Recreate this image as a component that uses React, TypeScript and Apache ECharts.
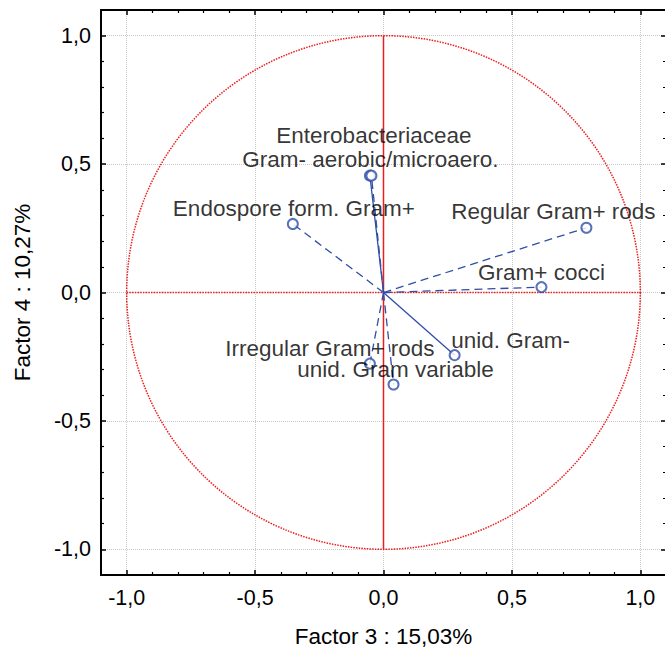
import React, { useEffect, useRef } from "react";
import * as echarts from "echarts";

// Factor loadings (Factor 3 on x, Factor 4 on y)
const NAMES = [
  "Enterobacteriaceae",
  "Gram- aerobic/microaero.",
  "Endospore form. Gram+",
  "Regular Gram+ rods",
  "Gram+ cocci",
  "unid. Gram-",
  "Irregular Gram+ rods",
  "unid. Gram variable",
];
const FACTOR3 = [-0.053, -0.047, -0.353, 0.79, 0.615, 0.277, -0.053, 0.039];
const FACTOR4 = [0.455, 0.455, 0.267, 0.252, 0.021, -0.244, -0.277, -0.358];
const LINE_KINDS = ["solid", "dashed", "dashed", "dashed", "dashed", "solid", "dashed", "dashed"];
// label centre offsets (px) from each point
const LABEL_OFFSETS = [
  [4, -40],
  [-1, -16],
  [1, -15],
  [-33, -16],
  [0, -15],
  [56, -15],
  [-40, -15.5],
  [2, -14.5],
];
const TICK_VALUES = [-1, -0.5, 0, 0.5, 1];
const TICK_LABELS = ["-1,0", "-0,5", "0,0", "0,5", "1,0"];
const X_NAME = "Factor 3 : 15,03%";
const Y_NAME = "Factor 4 : 10,27%";

const FONT = "'Liberation Sans', Arial, sans-serif";
const BLUE = "#2f4fa6";
const RED = "#ee1c1c";

function fmt(v: number): string {
  for (let i = 0; i < TICK_VALUES.length; i++) {
    if (Math.abs(v - TICK_VALUES[i]) < 1e-6) return TICK_LABELS[i];
  }
  return "";
}

function makeAxis(pos: string, main: boolean, isY: boolean): any {
  return {
    type: "value",
    position: pos,
    min: -1.1,
    max: 1.1,
    name: main ? (isY ? Y_NAME : X_NAME) : "",
    nameLocation: "middle",
    nameGap: isY ? 67 : 50,
    nameTextStyle: { fontFamily: FONT, fontSize: 22.5, color: "#000" },
    axisLine: { show: true, onZero: false, lineStyle: { color: "#000", width: 2 } },
    axisTick: { show: true, inside: true, length: 5, lineStyle: { color: "#000", width: 1.5 } },
    minorTick: { show: true, splitNumber: 5, length: 3, lineStyle: { color: "#000", width: 1.2 } },
    axisLabel: {
      show: main,
      showMinLabel: false,
      showMaxLabel: false,
      formatter: (v: number) => fmt(v),
      fontFamily: FONT,
      fontSize: 21.5,
      color: "#000",
      margin: isY ? 10 : 12,
    },
    splitLine: { show: main, lineStyle: { color: "#c8c8c8", type: "dotted", width: 1 } },
    minorSplitLine: { show: false },
  };
}

export default function App() {
  const ref = useRef<HTMLDivElement>(null);
  useEffect(() => {
    if (!ref.current) return;
    const chart = echarts.init(ref.current, null, { renderer: "svg" });

    const vectorSeries = NAMES.map((n, i) => ({
      type: "line",
      name: n,
      data: [
        [0, 0],
        [FACTOR3[i], FACTOR4[i]],
      ],
      showSymbol: false,
      symbol: "none",
      silent: true,
      z: 3,
      lineStyle: {
        color: BLUE,
        width: 1.3,
        type: LINE_KINDS[i] === "dashed" ? [8, 5] : "solid",
      },
    }));

    const pointSeries = {
      type: "scatter",
      symbol: "emptyCircle",
      symbolSize: 10,
      z: 4,
      itemStyle: { color: BLUE, borderColor: BLUE, borderWidth: 1.3 },
      label: {
        show: true,
        position: "inside",
        align: "center",
        verticalAlign: "middle",
        formatter: (p: any) => p.name,
        fontFamily: FONT,
        fontSize: 22.5,
        lineHeight: 20,
        color: "#000",
        textBorderWidth: 0,
      },
      data: NAMES.map((n, i) => ({
        name: n,
        value: [FACTOR3[i], FACTOR4[i]],
        label: { offset: LABEL_OFFSETS[i] },
      })),
    };

    const unitCircle = {
      type: "custom",
      silent: true,
      z: 2,
      data: [[0, 0]],
      renderItem: (_params: any, api: any) => {
        const c = api.coord([0, 0]);
        const e = api.coord([1, 0]);
        const r = e[0] - c[0];
        const xl = api.coord([-1, 0]);
        const yt = api.coord([0, 1]);
        const yb = api.coord([0, -1]);
        return {
          type: "group",
          children: [
            {
              type: "circle",
              shape: { cx: c[0], cy: c[1], r },
              style: { fill: "none", stroke: RED, lineWidth: 1.5, lineDash: [1.5, 1.2] },
            },
            {
              type: "line",
              shape: { x1: xl[0], y1: xl[1], x2: e[0], y2: e[1] },
              style: { stroke: RED, lineWidth: 1.3, lineDash: [1.5, 1.2] },
            },
            {
              type: "line",
              shape: { x1: yt[0], y1: yt[1], x2: yb[0], y2: yb[1] },
              style: { stroke: RED, lineWidth: 1.5 },
            },
          ],
        };
      },
    };

    chart.setOption({
      animation: false,
      backgroundColor: "#fff",
      grid: {
        left: 101,
        right: -1,
        top: 10,
        bottom: 75,
        containLabel: false,
        outerBoundsMode: "none",
      },
      xAxis: [makeAxis("bottom", true, false), makeAxis("top", false, false)],
      yAxis: [makeAxis("left", true, true), makeAxis("right", false, true)],
      series: [unitCircle, ...vectorSeries, pointSeries],
    });
    return () => chart.dispose();
  }, []);
  return (
    <div
      ref={ref}
      style={{ position: "absolute", left: 0, top: 0, width: 665, height: 650 }}
    />
  );
}
